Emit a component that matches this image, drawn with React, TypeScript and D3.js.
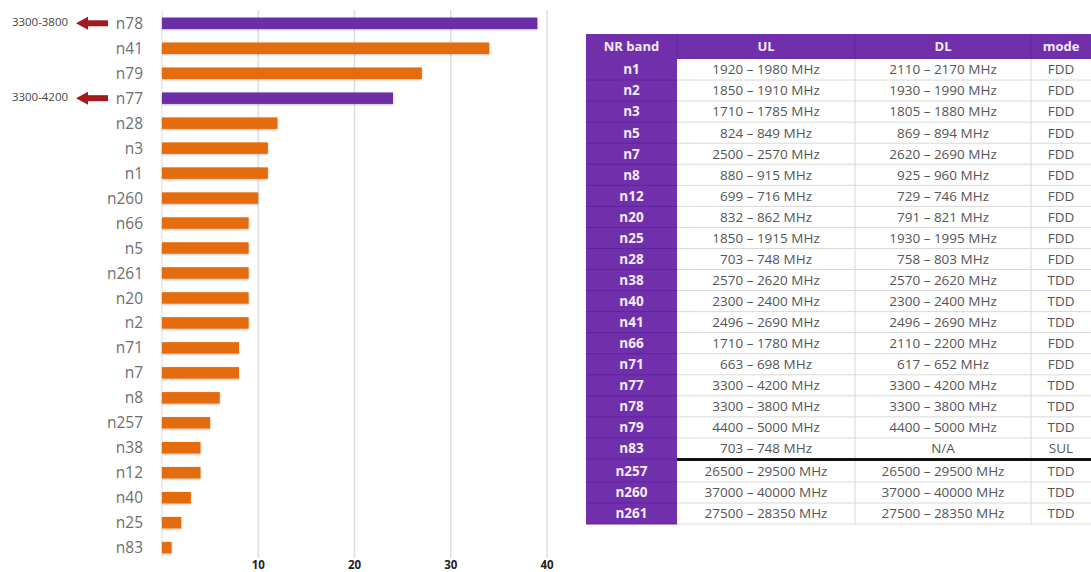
import React from "react";
import * as d3 from "d3";

const bands = ["n78","n41","n79","n77","n28","n3","n1","n260","n66","n5","n261","n20","n2","n71","n7","n8","n257","n38","n12","n40","n25","n83"];
const counts = [39,34,27,24,12,11,11,10,9,9,9,9,9,8,8,6,5,4,4,3,2,1];
const highlighted = ["n78","n77"];
const arrowNotes = [{ band: "n78", label: "3300-3800" }, { band: "n77", label: "3300-4200" }];
const xTicks = [10, 20, 30, 40];

const tableHeader = ["NR band", "UL", "DL", "mode"];
const tableBands = ["n1","n2","n3","n5","n7","n8","n12","n20","n25","n28","n38","n40","n41","n66","n71","n77","n78","n79","n83","n257","n260","n261"];
const ulRanges = ["1920 – 1980 MHz","1850 – 1910 MHz","1710 – 1785 MHz","824 – 849 MHz","2500 – 2570 MHz","880 – 915 MHz","699 – 716 MHz","832 – 862 MHz","1850 – 1915 MHz","703 – 748 MHz","2570 – 2620 MHz","2300 – 2400 MHz","2496 – 2690 MHz","1710 – 1780 MHz","663 – 698 MHz","3300 – 4200 MHz","3300 – 3800 MHz","4400 – 5000 MHz","703 – 748 MHz","26500 – 29500 MHz","37000 – 40000 MHz","27500 – 28350 MHz"];
const dlRanges = ["2110 – 2170 MHz","1930 – 1990 MHz","1805 – 1880 MHz","869 – 894 MHz","2620 – 2690 MHz","925 – 960 MHz","729 – 746 MHz","791 – 821 MHz","1930 – 1995 MHz","758 – 803 MHz","2570 – 2620 MHz","2300 – 2400 MHz","2496 – 2690 MHz","2110 – 2200 MHz","617 – 652 MHz","3300 – 4200 MHz","3300 – 3800 MHz","4400 – 5000 MHz","N/A","26500 – 29500 MHz","37000 – 40000 MHz","27500 – 28350 MHz"];
const modes = ["FDD","FDD","FDD","FDD","FDD","FDD","FDD","FDD","FDD","FDD","TDD","TDD","TDD","FDD","FDD","TDD","TDD","TDD","SUL","TDD","TDD","TDD"];
const fr1Count = 19;

const W = 1091, H = 572;
const ORANGE = "#e46c0b";
const PURPLE = "#6c2ea6";
const TPURPLE = "#7130ab";
const FONT = "'Open Sans', 'Noto Sans', sans-serif";

export default function App() {
  const x = d3.scaleLinear().domain([0, 40]).range([162, 547]);
  const y = d3.scaleBand<string>().domain(bands).range([10.8, 560.1]).paddingInner(0.54).paddingOuter(0.27);

  // table geometry
  const colX = [586, 677, 855, 1031, 1091];
  const headTop = 34, headBot = 59;
  const fr1Rows = d3.scaleBand<number>().domain(d3.range(fr1Count)).range([headBot, 459]);
  const fr2Rows = d3.scaleBand<number>().domain(d3.range(fr1Count, tableBands.length)).range([461, 524]);
  const rowBand = (i: number) => (i < fr1Count ? fr1Rows : fr2Rows);
  const cols = [tableBands, ulRanges, dlRanges, modes];

  return (
    <svg width={W} height={H} style={{ position: "absolute", left: 0, top: 0, background: "#fff" }} fontFamily={FONT}>
      <defs>
        <filter id="sh" x="-5%" y="-40%" width="110%" height="180%">
          <feDropShadow dx="0" dy="1" stdDeviation="0.8" floodColor="#000" floodOpacity="0.25" />
        </filter>
      </defs>
      {/* grid */}
      <line x1={x(0)} x2={x(0)} y1={10} y2={558} stroke="#e8e8ee" strokeWidth={1.5} />
      {xTicks.map((t) => (
        <g key={t}>
          <line x1={x(t)} x2={x(t)} y1={10} y2={558} stroke="#dedee4" strokeWidth={1.5} />
          <text x={x(t)} y={569} textAnchor="middle" fontSize={11.5} fontWeight={700} fill="#222">{t}</text>
        </g>
      ))}
      {/* bars */}
      {bands.map((b, i) => (
        <g key={b}>
          <rect x={x(0)} y={y(b)!} width={x(counts[i]) - x(0)} height={y.bandwidth()}
            fill={highlighted.includes(b) ? PURPLE : ORANGE} filter="url(#sh)" />
          <text x={143} y={y(b)! + y.bandwidth() / 2} dy="0.36em" textAnchor="end" fontSize={15.5} fill="#6e6e6e">{b}</text>
        </g>
      ))}
      {/* arrows */}
      {arrowNotes.map((a) => {
        const cy = y(a.band)! + y.bandwidth() / 2;
        return (
          <g key={a.band}>
            <rect x={87} y={cy - 3} width={21} height={6} fill="#a3191c" />
            <path d={`M76,${cy} L88,${cy - 6.5} L88,${cy + 6.5} Z`} fill="#a3191c" />
            <text x={12} y={cy - 1} dy="0.35em" fontSize={10} fill="#444" textLength={56} lengthAdjust="spacingAndGlyphs">{a.label}</text>
          </g>
        );
      })}
      {/* table */}
      <rect x={colX[0]} y={headTop} width={colX[4] - colX[0]} height={headBot - headTop} fill={TPURPLE} />
      <rect x={colX[0]} y={headBot} width={colX[1] - colX[0]} height={524 - headBot} fill={TPURPLE} />
      {tableHeader.map((h, c) => (
        <g key={h}>
          {c > 0 && <line x1={colX[c]} x2={colX[c]} y1={headTop} y2={headBot} stroke="#6423a0" strokeWidth={1} />}
          <text x={(colX[c] + colX[c + 1]) / 2} y={(headTop + headBot) / 2} dy="0.36em" textAnchor="middle"
            fontSize={13} fontWeight={700} fill="#f4ecfa">{h}</text>
        </g>
      ))}
      {tableBands.map((b, i) => {
        const rb = rowBand(i);
        const ry = rb(i)!;
        const rh = rb.bandwidth();
        return (
          <g key={b}>
            <line x1={colX[0]} x2={colX[1]} y1={ry + rh} y2={ry + rh} stroke="#6221a0" strokeWidth={1} />
            <line x1={colX[1]} x2={colX[4]} y1={ry + rh} y2={ry + rh} stroke="#d8d8d8" strokeWidth={1} />
            {cols.map((col, c) => (
              <text key={c} x={(colX[c] + colX[c + 1]) / 2} y={ry + rh / 2} dy="0.36em" textAnchor="middle"
                fontSize={13.5} fontWeight={c === 0 ? 700 : 400} fill={c === 0 ? "#f4ecfa" : "#555"}>
                {col[i]}
              </text>
            ))}
          </g>
        );
      })}
      {[2, 3].map((c) => (
        <line key={c} x1={colX[c]} x2={colX[c]} y1={headBot} y2={524} stroke="#d8d8d8" strokeWidth={1} />
      ))}
      <line x1={colX[1]} x2={colX[4]} y1={459.5} y2={459.5} stroke="#111" strokeWidth={3} />
    </svg>
  );
}
